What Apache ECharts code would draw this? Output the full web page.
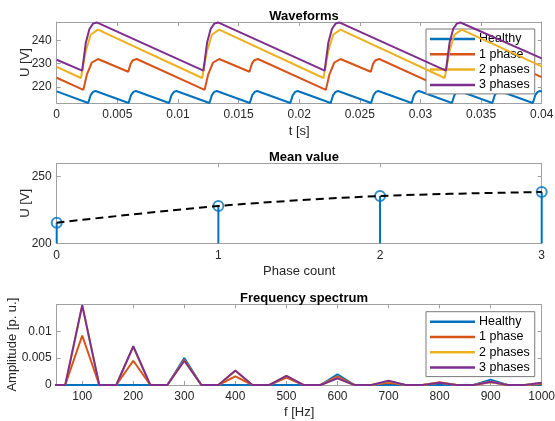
<!DOCTYPE html>
<html>
<head>
<meta charset="utf-8">
<script src="https://cdn.jsdelivr.net/npm/echarts@6.0.0/dist/echarts.min.js"></script>
<style>
  html, body { margin: 0; padding: 0; background: #fff; }
  #chart { width: 555px; height: 421px; }
</style>
</head>
<body>
<div id="chart"></div>
<script>
// ---- data ----
var seriesNames = ['Healthy', '1 phase', '2 phases', '3 phases'];
var seriesColors = ['#0072BD', '#D95319', '#EDB120', '#7E2F8E'];

// waveforms: [t (s), U (V)] vertices
var healthyWave = [
  [0, 218.0], [0.0026, 213.0], [0.0028, 216.4], [0.0030, 217.8], [0.0032, 218.2],
  [0.00593, 213.0], [0.00613, 216.4], [0.00633, 217.8], [0.00653, 218.2],
  [0.00927, 213.0], [0.00947, 216.4], [0.00967, 217.8], [0.00987, 218.2],
  [0.0126, 213.0], [0.0128, 216.4], [0.0130, 217.8], [0.0132, 218.2],
  [0.01593, 213.0], [0.01613, 216.4], [0.01633, 217.8], [0.01653, 218.2],
  [0.01927, 213.0], [0.01947, 216.4], [0.01967, 217.8], [0.01987, 218.2],
  [0.0226, 213.0], [0.0228, 216.4], [0.0230, 217.8], [0.0232, 218.2],
  [0.02593, 213.0], [0.02613, 216.4], [0.02633, 217.8], [0.02653, 218.2],
  [0.02927, 213.0], [0.02947, 216.4], [0.02967, 217.8], [0.02987, 218.2],
  [0.0326, 213.0], [0.0328, 216.4], [0.0330, 217.8], [0.0332, 218.2],
  [0.03593, 213.0], [0.03613, 216.4], [0.03633, 217.8], [0.03653, 218.2],
  [0.03927, 213.0], [0.03947, 216.4], [0.03967, 217.8], [0.03987, 218.2], [0.04, 218.0]
];
var onePhaseWave = [
  [0, 223.9], [0.0022, 218.7], [0.0025, 225.5], [0.0029, 230.5], [0.0034, 232.0],
  [0.0059, 226.5], [0.0061, 230.0], [0.0063, 231.5], [0.0066, 232.0],
  [0.0122, 218.7], [0.0125, 225.5], [0.0129, 230.5], [0.0134, 232.0],
  [0.0159, 226.5], [0.0161, 230.0], [0.0163, 231.5], [0.0166, 232.0],
  [0.0222, 218.7], [0.0225, 225.5], [0.0229, 230.5], [0.0234, 232.0],
  [0.0259, 226.5], [0.0261, 230.0], [0.0263, 231.5], [0.0266, 232.0],
  [0.0322, 218.7], [0.0325, 225.5], [0.0329, 230.5], [0.0334, 232.0],
  [0.0359, 226.5], [0.0361, 230.0], [0.0363, 231.5], [0.0366, 232.0],
  [0.04, 224.2]
];
var twoPhaseWave = [
  [0, 228.6], [0.0020, 223.8], [0.0024, 235.5], [0.0028, 242.5], [0.0034, 244.7],
  [0.0120, 223.8], [0.0124, 235.5], [0.0128, 242.5], [0.0134, 244.7],
  [0.0220, 223.8], [0.0224, 235.5], [0.0228, 242.5], [0.0234, 244.7],
  [0.0320, 223.8], [0.0324, 235.5], [0.0328, 242.5], [0.0334, 244.7],
  [0.04, 228.8]
];
var threePhaseWave = [
  [0, 231.7], [0.0021, 227.0], [0.0024, 239.0], [0.0027, 245.0], [0.0030, 247.3], [0.0033, 247.8],
  [0.0121, 227.0], [0.0124, 239.0], [0.0127, 245.0], [0.0130, 247.3], [0.0133, 247.8],
  [0.0221, 227.0], [0.0224, 239.0], [0.0227, 245.0], [0.0230, 247.3], [0.0233, 247.8],
  [0.0321, 227.0], [0.0324, 239.0], [0.0327, 245.0], [0.0330, 247.3], [0.0333, 247.8],
  [0.04, 232.3]
];

// mean value
var phaseCount = [0, 1, 2, 3];
var meanVoltage = [215.5, 228.0, 235.5, 238.5];

// frequency spectrum
var freqHz = [33.3, 66.7, 100, 133.3, 166.7, 200, 233.3, 266.7, 300, 333.3,
  366.7, 400, 433.3, 466.7, 500, 533.3, 566.7, 600, 633.3, 666.7,
  700, 733.3, 766.7, 800, 833.3, 866.7, 900, 933.3, 966.7, 1000];
var healthySpec = [0, 0, 0, 0, 0, 0, 0, 0, 0.0050, 0,
  0, 0, 0, 0, 0, 0, 0, 0.0020, 0, 0,
  0, 0, 0, 0, 0, 0, 0.0010, 0, 0, 0];
var onePhaseSpec = [0, 0, 0.0092, 0, 0, 0.0045, 0, 0, 0.0047, 0,
  0, 0.0016, 0, 0, 0.0014, 0, 0, 0.0016, 0, 0,
  0.0004, 0, 0, 0.0005, 0, 0, 0.0005, 0, 0, 0.0002];
var twoPhaseSpec = [0, 0, 0.0148, 0, 0, 0.0071, 0, 0, 0.0045, 0,
  0, 0.0026, 0, 0, 0.0017, 0, 0, 0.0013, 0, 0,
  0.0007, 0, 0, 0.0004, 0, 0, 0.0006, 0, 0, 0.0004];
var threePhaseSpec = [0, 0, 0.01485, 0, 0, 0.0072, 0, 0, 0.0045, 0,
  0, 0.0027, 0, 0, 0.0017, 0, 0, 0.00125, 0, 0,
  0.0008, 0, 0, 0.0004, 0, 0, 0.0006, 0, 0, 0.0004];

var waveTicks = [220, 230, 240];
var meanTicks = [200, 250];
var specYTicks = [0, 0.005, 0.01];
var specXTicks = [100, 200, 300, 400, 500, 600, 700, 800, 900, 1000];

// ---- chart ----
var dom = document.getElementById('chart');
var myChart = echarts.init(dom, null, { renderer: 'canvas' });

var FONT = "'Liberation Sans', Arial, sans-serif";
var boxColor = '#a0a0a0';
var textColor = '#262626';

var grids = [
  { left: 56.7, top: 22, width: 485, height: 81, outerBoundsMode: 'none' },
  { left: 56.7, top: 163.3, width: 485, height: 80, outerBoundsMode: 'none' },
  { left: 56.7, top: 304.3, width: 485, height: 80.7, outerBoundsMode: 'none' }
];

function tickStyle(custom) {
  var t = { show: true, inside: true, length: 4, lineStyle: { color: boxColor, width: 1 } };
  if (custom) t.customValues = custom;
  return t;
}

function plainNum(v) { return String(+v.toPrecision(6)); }

function xPair(gi, min, max, interval, custom, name, nameGap) {
  var lbl = { show: true, margin: 6, color: textColor, fontFamily: FONT, fontSize: 12, formatter: plainNum };
  if (custom) lbl.customValues = custom;
  var bottom = {
    type: 'value', gridIndex: gi, min: min, max: max, position: 'bottom',
    axisLine: { show: true, onZero: false, lineStyle: { color: boxColor, width: 1 } },
    axisTick: tickStyle(custom), axisLabel: lbl, splitLine: { show: false },
    name: name, nameLocation: 'middle', nameGap: nameGap, nameMoveOverlap: false,
    nameTextStyle: { color: textColor, fontFamily: FONT, fontSize: 13 }
  };
  if (interval) bottom.interval = interval;
  var top = {
    type: 'value', gridIndex: gi, min: min, max: max, position: 'top',
    axisLine: { show: true, onZero: false, lineStyle: { color: boxColor, width: 1 } },
    axisTick: tickStyle(custom), axisLabel: { show: false }, splitLine: { show: false }
  };
  if (interval) top.interval = interval;
  return [bottom, top];
}

function yPair(gi, min, max, custom, name, nameGap) {
  var left = {
    type: 'value', gridIndex: gi, min: min, max: max, position: 'left',
    axisLine: { show: true, onZero: false, lineStyle: { color: boxColor, width: 1 } },
    axisTick: tickStyle(custom),
    axisLabel: { show: true, margin: 5, color: textColor, fontFamily: FONT, fontSize: 12,
      customValues: custom, formatter: plainNum },
    splitLine: { show: false },
    name: name, nameLocation: 'middle', nameGap: nameGap, nameRotate: 90, nameMoveOverlap: false,
    nameTextStyle: { color: textColor, fontFamily: FONT, fontSize: 13 }
  };
  var right = {
    type: 'value', gridIndex: gi, min: min, max: max, position: 'right',
    axisLine: { show: true, onZero: false, lineStyle: { color: boxColor, width: 1 } },
    axisTick: tickStyle(custom), axisLabel: { show: false }, splitLine: { show: false }
  };
  return [left, right];
}

var xAxes = [].concat(
  xPair(0, 0, 0.04, 0.005, null, 't [s]', 22),
  xPair(1, 0, 3, 1, null, 'Phase count', 22),
  xPair(2, 50, 1000, null, specXTicks, 'f [Hz]', 21)
);
var yAxes = [].concat(
  yPair(0, 213, 248, waveTicks, 'U [V]', 25),
  yPair(1, 200, 260, meanTicks, 'U [V]', 25),
  yPair(2, 0, 0.015, specYTicks, 'Amplitude [p. u.]', 38)
);

var waves = [healthyWave, onePhaseWave, twoPhaseWave, threePhaseWave];
var specs = [healthySpec, onePhaseSpec, twoPhaseSpec, threePhaseSpec];

var series = [];
waves.forEach(function (w, i) {
  series.push({
    name: seriesNames[i], type: 'line', xAxisIndex: 0, yAxisIndex: 0,
    data: w, showSymbol: false, symbol: 'none',
    lineStyle: { color: seriesColors[i], width: 2 }, itemStyle: { color: seriesColors[i] },
    z: 2 + i
  });
});
specs.forEach(function (s, i) {
  series.push({
    name: seriesNames[i], type: 'line', xAxisIndex: 4, yAxisIndex: 4,
    data: freqHz.map(function (f, k) { return [f, s[k]]; }),
    showSymbol: false, symbol: 'none',
    lineStyle: { color: seriesColors[i], width: 2 }, itemStyle: { color: seriesColors[i] },
    z: 2 + i
  });
});

var meanPts = phaseCount.map(function (p, k) { return [p, meanVoltage[k]]; });
// stems
series.push({
  type: 'custom', xAxisIndex: 2, yAxisIndex: 2, data: meanPts, clip: false, z: 2,
  renderItem: function (params, api) {
    var top = api.coord([api.value(0), api.value(1)]);
    var base = api.coord([api.value(0), 200]);
    return {
      type: 'line',
      shape: { x1: base[0], y1: base[1], x2: top[0], y2: top[1] },
      style: { stroke: '#0072BD', lineWidth: 2 }
    };
  }
});
series.push({
  type: 'scatter', xAxisIndex: 2, yAxisIndex: 2, data: meanPts, clip: false, z: 3,
  symbol: 'circle', symbolSize: 10,
  itemStyle: { color: 'rgba(0,0,0,0)', borderColor: '#0072BD', borderWidth: 2 }
});
series.push({
  type: 'line', xAxisIndex: 2, yAxisIndex: 2, data: meanPts, smooth: 0.3,
  showSymbol: false, symbol: 'none', z: 4,
  lineStyle: { color: '#000', width: 2, type: [8, 5] }
});

function legendAt(top) {
  return {
    data: seriesNames, orient: 'vertical', left: 426, top: top,
    icon: 'rect', itemWidth: 45, itemHeight: 2.5, itemGap: 1.3,
    padding: [3, 5, 2, 4], backgroundColor: '#fff',
    borderColor: '#7a7a7a', borderWidth: 1, borderRadius: 0,
    textStyle: { color: '#000', fontFamily: FONT, fontSize: 12.5, lineHeight: 14, padding: [0, 0, 0, -1] },
    selectedMode: false
  };
}

var option = {
  backgroundColor: '#fff',
  animation: false,
  title: [
    { text: 'Waveforms', left: 299, top: 5, textAlign: 'center',
      textStyle: { fontFamily: FONT, fontSize: 13, fontWeight: 'bold', color: '#000' } },
    { text: 'Mean value', left: 299, top: 146, textAlign: 'center',
      textStyle: { fontFamily: FONT, fontSize: 13, fontWeight: 'bold', color: '#000' } },
    { text: 'Frequency spectrum', left: 299, top: 287, textAlign: 'center',
      textStyle: { fontFamily: FONT, fontSize: 13, fontWeight: 'bold', color: '#000' } }
  ],
  grid: grids,
  xAxis: xAxes,
  yAxis: yAxes,
  legend: [legendAt(29), legendAt(311.7)],
  series: series
};

if (option && typeof option === 'object') {
  myChart.setOption(option);
}
</script>
</body>
</html>
